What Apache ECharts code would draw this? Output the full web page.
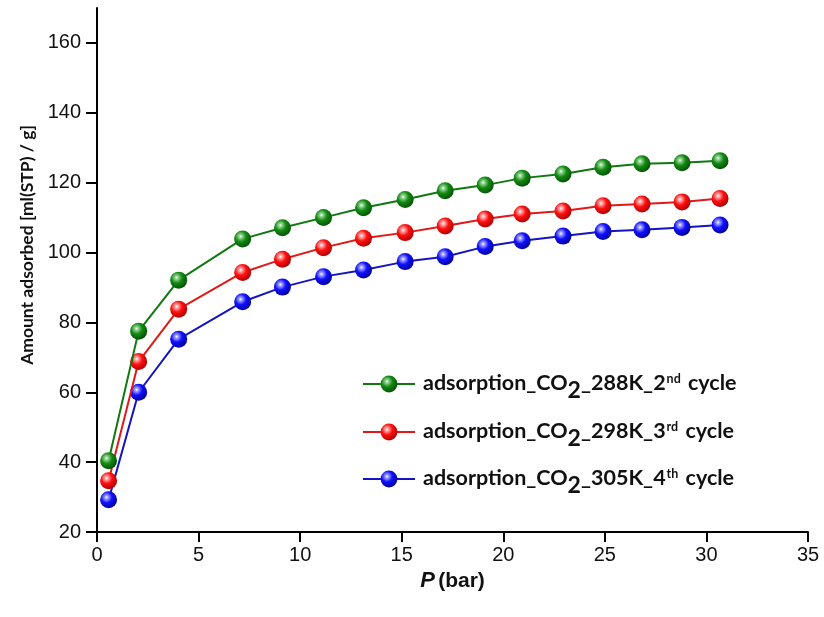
<!DOCTYPE html>
<html>
<head>
<meta charset="utf-8">
<script src="https://cdn.jsdelivr.net/npm/echarts@6/dist/echarts.min.js"></script>
<style>html,body{margin:0;padding:0;background:#fff}#c{width:824px;height:617px}</style>
</head>
<body>
<div id="c"></div>
<script>
const pressure = [0.57, 2.05, 4.02, 7.17, 9.13, 11.15, 13.12, 15.17, 17.14, 19.11, 20.93, 22.94, 24.91, 26.83, 28.80, 30.67];
const co2_288K = [40.4, 77.5, 92.1, 103.9, 107.1, 110.0, 112.8, 115.2, 117.7, 119.3, 121.3, 122.5, 124.4, 125.4, 125.7, 126.3];
const co2_298K = [34.7, 68.8, 83.8, 94.3, 98.1, 101.4, 104.1, 105.7, 107.6, 109.6, 111.0, 111.9, 113.4, 113.9, 114.5, 115.5];
const co2_305K = [29.2, 60.0, 75.2, 85.9, 90.1, 93.1, 95.0, 97.4, 98.8, 101.7, 103.4, 104.7, 106.0, 106.5, 107.2, 107.9];
const seriesNames = ['adsorption_CO2_288K_2nd cycle', 'adsorption_CO2_298K_3rd cycle', 'adsorption_CO2_305K_4th cycle'];
const legendLabels = [
  '{t|adsorption_CO}{sub|2}{t|_288K_2}{sup|nd}{t| cycle}',
  '{t|adsorption_CO}{sub|2}{t|_298K_3}{sup|rd}{t| cycle}',
  '{t|adsorption_CO}{sub|2}{t|_305K_4}{sup|th}{t| cycle}'
];
const yTicks = [20, 40, 60, 80, 100, 120, 140, 160];
const xTicks = [0, 5, 10, 15, 20, 25, 30, 35];

const palette = [
  {line: '#0f780f', light: '#9ad89a', base: '#128a12', dark: '#034a03'},
  {line: '#e01818', light: '#ffb0b0', base: '#ff1010', dark: '#a00000'},
  {line: '#1414c0', light: '#a8a8ff', base: '#1010ff', dark: '#00008a'}
];
function sphere(p) {
  return {type: 'radial', x: 0.38, y: 0.35, r: 0.72,
    colorStops: [{offset: 0, color: '#ffffff'}, {offset: 0.12, color: p.light}, {offset: 0.45, color: p.base}, {offset: 1, color: p.dark}]};
}
const allData = [co2_288K, co2_298K, co2_305K];
const series = allData.map((vals, i) => ({
  name: seriesNames[i],
  type: 'line',
  data: pressure.map((x, j) => [x, vals[j]]),
  symbol: 'circle',
  symbolSize: 17,
  lineStyle: {color: palette[i].line, width: 2},
  itemStyle: {color: sphere(palette[i]), borderWidth: 0},
  emphasis: {disabled: true},
  z: 3 - i
}));
const legendTops = [367, 415, 462];
const FF = 'Lato';
const richText = {
  t: {fontFamily: FF, fontWeight: 'bold', fontSize: 21.5, color: '#111', verticalAlign: 'top', lineHeight: 24},
  sub: {fontFamily: FF, fontWeight: 'bold', fontSize: 23, color: '#111', verticalAlign: 'top', lineHeight: 24, padding: [7, 0, 0, 0]},
  sup: {fontFamily: FF, fontWeight: 'bold', fontSize: 12.5, color: '#111', verticalAlign: 'top', lineHeight: 12, padding: [0, 2, 0, 1]}
};
const legends = seriesNames.map((n, i) => ({
  data: [n],
  left: 357,
  top: legendTops[i],
  itemWidth: 52,
  itemHeight: 21,
  formatter: () => legendLabels[i],
  textStyle: {fontFamily: FF, fontWeight: 'bold', fontSize: 21.5, color: '#111', rich: richText, padding: [0, 0, 0, 3]},
  selectedMode: false
}));

const chart = echarts.init(document.getElementById('c'), null, {renderer: 'canvas'});
chart.setOption({
  animation: false,
  backgroundColor: '#ffffff',
  grid: {left: 97, right: 16, top: 8, bottom: 85, containLabel: false},
  xAxis: {
    type: 'value', min: 0, max: 35, interval: 5,
    name: '{p|P} {b|(bar)}', nameLocation: 'middle', nameGap: 33,
    nameTextStyle: {rich: {
      p: {fontFamily: 'Liberation Sans', fontWeight: 'bold', fontStyle: 'italic', fontSize: 22, color: '#111'},
      b: {fontFamily: 'Liberation Sans', fontWeight: 'bold', fontSize: 21, color: '#111'}
    }},
    axisLine: {show: true, onZero: false, lineStyle: {color: '#000', width: 2}},
    axisTick: {show: true, inside: false, length: 10, lineStyle: {color: '#000', width: 2}, customValues: xTicks},
    axisLabel: {fontFamily: 'Liberation Sans', fontSize: 20, color: '#111', margin: 13, customValues: xTicks},
    splitLine: {show: false}
  },
  yAxis: {
    type: 'value', min: 20, max: 170, interval: 20,
    axisLine: {show: true, onZero: false, lineStyle: {color: '#000', width: 2}},
    axisTick: {show: true, inside: false, length: 11, lineStyle: {color: '#000', width: 2}, customValues: yTicks},
    axisLabel: {fontFamily: 'Liberation Sans', fontSize: 20, color: '#111', margin: 16, customValues: yTicks},
    splitLine: {show: false}
  },
  graphic: [{
    type: 'text', x: 27, y: 245, rotation: Math.PI / 2,
    style: {text: 'Amount adsorbed [ml(STP) / g]', fontFamily: FF, fontWeight: 'bold', fontSize: 17.5, fill: '#111', align: 'center', verticalAlign: 'middle'}
  }],
  legend: legends,
  series: series
});
</script>
</body>
</html>
